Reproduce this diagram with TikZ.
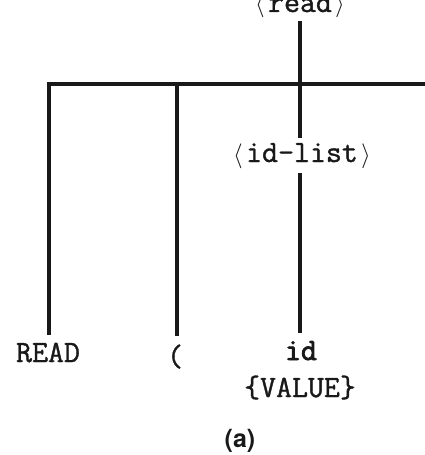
\documentclass[tikz,border=0pt]{standalone}
\usepackage{fontspec}
\setmonofont[FakeBold=1.2]{Latin Modern Mono}
\newfontfamily\labelfont{TeX Gyre Heros}
\tikzset{
  branch/.style={line width=4pt, draw=black!90},
  sym/.style={font=\ttfamily\fontsize{31}{36}\selectfont, inner sep=0pt, anchor=base, text=black!90},
  caption/.style={font=\labelfont\bfseries\fontsize{25}{30}\selectfont, inner sep=0pt, text=black!90}
}
\newcommand{\lang}{\makebox[0.525em]{$\langle$}}
\newcommand{\rang}{\makebox[0.525em]{$\rangle$}}
\begin{document}
\begin{tikzpicture}[x=1pt, y=-1pt]
  \useasboundingbox (0,0) rectangle (424,455);
  % nonterminals
  \node[sym] (readnt) at (300,12) {\lang read\rang};
  \node[sym] (idlist) at (302,162) {\lang id-list\rang};
  % leaves
  \node[sym] (kwread) at (48,362) {READ};
  \node[sym] (lparen) at (175,366) {(};
  \node[sym] (ident) at (301,360) {\bfseries\addfontfeature{FakeBold=2.5}id};
  \node[sym] (attr) at (300,397) {\{VALUE\}};
  \node[caption] (cap) at (240,441) {(a)};
  % junctions on the bar
  \coordinate (jmid) at (300,84);
  \coordinate (jleft) at (49,84);
  \coordinate (jparen) at (177,84);
  \coordinate (barend) at (430,84);
  % tree branches
  \draw[branch] ([yshift=-9pt]readnt.base) -- (jmid);
  \draw[branch] ([yshift=27pt]kwread.base -| jleft) -- (jleft) -- (barend);
  \draw[branch] (jparen) -- ([yshift=30pt]jparen |- lparen.base);
  \draw[branch] (jmid) -- ([yshift=24pt]idlist.base -| jmid);
  \draw[branch] ([yshift=-11pt]idlist.base -| jmid) -- ([yshift=27pt]jmid |- ident.base);
\end{tikzpicture}
\end{document}
